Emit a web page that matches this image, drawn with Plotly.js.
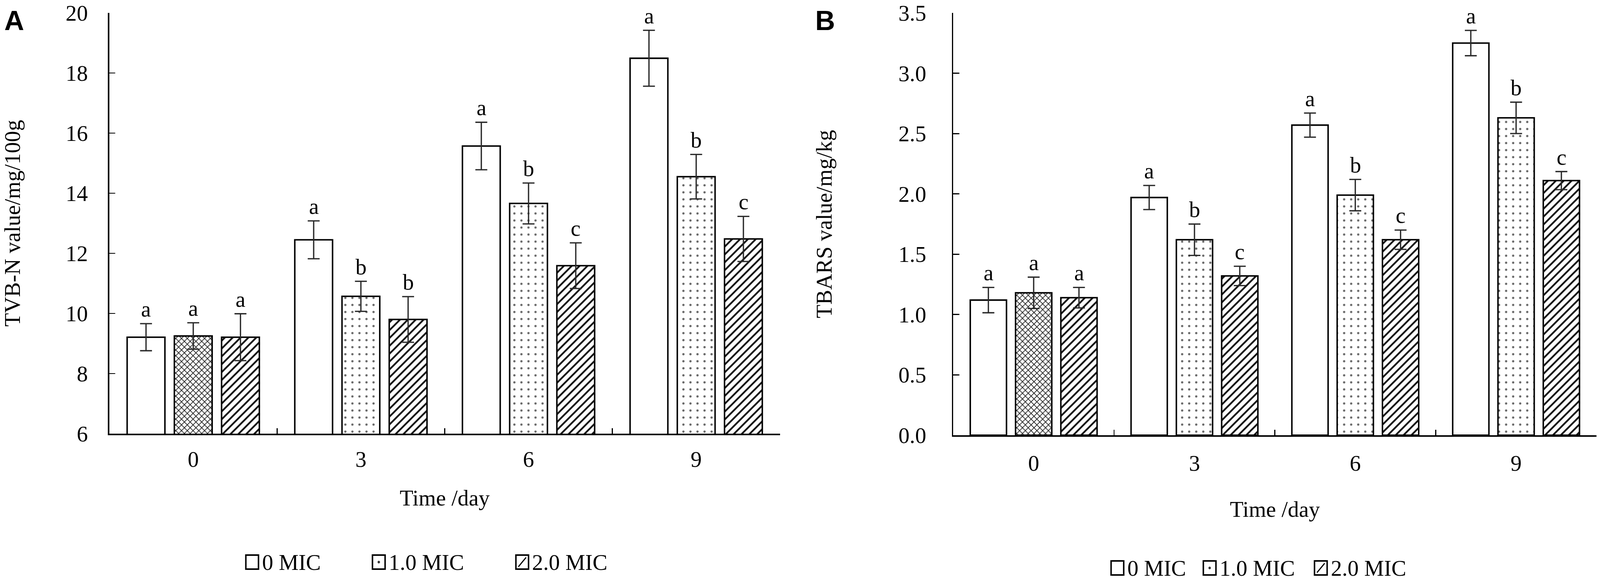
<!DOCTYPE html>
<html>
<head>
<meta charset="utf-8">
<script src="https://cdn.plot.ly/plotly-3.0.1.min.js"></script>
<style>
  html, body { margin: 0; padding: 0; background: #fff; overflow: hidden; }
</style>
</head>
<body>
<div id="plot"></div>
<script>
// categories
const days = ['0', '3', '6', '9']
const groups = ['0 MIC', '1.0 MIC', '2.0 MIC']

// A: TVB-N (mg/100g)
const tvbn0 = [9.21, 12.45, 15.57, 18.49]
const tvbn0Err = [0.45, 0.63, 0.79, 0.93]
const tvbn1 = [9.25, 10.57, 13.66, 14.55]
const tvbn1Err = [0.44, 0.50, 0.68, 0.74]
const tvbn2 = [9.21, 9.80, 11.59, 12.48]
const tvbn2Err = [0.78, 0.76, 0.76, 0.75]
const tvbnLetters = [['a', 'a', 'a', 'a'], ['a', 'b', 'b', 'b'], ['a', 'b', 'c', 'c']]

// B: TBARS (mg/kg)
const tbars0 = [1.12, 1.97, 2.57, 3.25]
const tbars0Err = [0.105, 0.10, 0.10, 0.105]
const tbars1 = [1.18, 1.62, 1.99, 2.63]
const tbars1Err = [0.13, 0.13, 0.13, 0.13]
const tbars2 = [1.14, 1.32, 1.62, 2.11]
const tbars2Err = [0.085, 0.08, 0.08, 0.075]
const tbarsLetters = [['a', 'a', 'a', 'a'], ['a', 'b', 'b', 'b'], ['a', 'c', 'c', 'c']]

// reference frame is 4562 x 1491; the real window can be narrower, so
// positions are kept as fractions of that frame and pixel sizes scaled
const RW = 4562, RH = 1491
const W = window.innerWidth || RW
const H = window.innerHeight || RH
const kx = W / RW
const k = Math.min(1, (kx + H / RH) / 2)
const px = v => v / RW
const py = v => 1 - v / RH
const ip = v => Math.round(v * k)
const SERIF = 'Liberation Serif, Times New Roman, serif'
const FS = 60 * k
const BARGAP = 0.155
const slot = (1 - BARGAP) / 3

function patternFor (s) {
  if (s === 0) return { shape: '' }
  if (s === 1) {
    return {
      shape: days.map(d => d === '0' ? 'x' : '.'),
      size: days.map(d => (d === '0' ? 11 : 19) * k),
      solidity: days.map(d => d === '0' ? 0.3 : 0.08),
      fgcolor: days.map(d => d === '0' ? '#1a1a1a' : '#666666'),
      bgcolor: '#ffffff',
      fillmode: 'replace'
    }
  }
  return { shape: '/', size: 15 * k, solidity: 0.32, fgcolor: '#111111', bgcolor: '#ffffff', fillmode: 'replace' }
}

function bars (series, errs, xa, ya) {
  return series.map((vals, s) => ({
    type: 'bar',
    name: groups[s],
    x: days,
    y: vals,
    xaxis: xa,
    yaxis: ya,
    showlegend: false,
    hoverinfo: 'skip',
    marker: {
      color: '#ffffff',
      line: { color: '#000000', width: 4 * k },
      pattern: patternFor(s)
    },
    error_y: {
      type: 'data',
      array: errs[s],
      visible: true,
      color: '#2a2a2a',
      thickness: 3.5 * k,
      width: 17 * kx
    }
  }))
}

const traces = [].concat(
  bars([tvbn0, tvbn1, tvbn2], [tvbn0Err, tvbn1Err, tvbn2Err], 'x', 'y'),
  bars([tbars0, tbars1, tbars2], [tbars0Err, tbars1Err, tbars2Err], 'x2', 'y2')
)

// significance letters above error bars
function letters (series, errs, marks, xr, yr) {
  const out = []
  series.forEach((vals, s) => {
    vals.forEach((v, d) => {
      out.push({
        x: d + (s - 1) * slot, xref: xr,
        y: v + errs[s][d], yref: yr,
        yanchor: 'bottom', yshift: 4,
        text: marks[s][d], showarrow: false,
        font: { family: SERIF, size: FS, color: '#000' }
      })
    })
  })
  return out
}

const tickFont = { family: SERIF, size: FS, color: '#000' }
const axisBase = {
  showline: true, linecolor: '#000', linewidth: 4 * k,
  ticks: 'inside', tickcolor: '#000', tickwidth: 3 * k,
  showgrid: false, zeroline: false,
  tickfont: tickFont, fixedrange: true,
  ticklabeloverflow: 'allow'
}

// custom legend (boxes drawn as shapes, labels as annotations)
function legend (xs, cy) {
  const shapes = [], anns = []
  const half = 18
  xs.forEach((x0, i) => {
    shapes.push({
      type: 'rect', xref: 'paper', yref: 'paper',
      x0: px(x0), x1: px(x0 + 36), y0: py(cy + half), y1: py(cy - half),
      line: { color: '#000', width: 4 * k }, fillcolor: '#fff'
    })
    if (i === 1) {
      shapes.push({
        type: 'circle', xref: 'paper', yref: 'paper',
        x0: px(x0 + 15), x1: px(x0 + 21), y0: py(cy + 3), y1: py(cy - 3),
        line: { color: '#333', width: 1 }, fillcolor: '#333'
      })
    }
    if (i === 2) {
      shapes.push({
        type: 'line', xref: 'paper', yref: 'paper',
        x0: px(x0 + 7), x1: px(x0 + 29), y0: py(cy + half - 6), y1: py(cy - half + 6),
        line: { color: '#000', width: 3 * k }
      })
    }
    anns.push({
      x: px(x0 + 44), xref: 'paper', xanchor: 'left',
      y: py(cy), yref: 'paper', yanchor: 'middle',
      text: groups[i], showarrow: false,
      font: { family: SERIF, size: FS, color: '#000' }
    })
  })
  return { shapes, anns }
}

const legA = legend([701, 1062, 1471], 1440)
const legB = legend([3168, 3431, 3748], 1455)

const layout = {
  width: W,
  height: H,
  margin: { l: 0, r: 0, t: 0, b: 0 },
  paper_bgcolor: '#fff',
  plot_bgcolor: '#fff',
  barmode: 'group',
  bargap: BARGAP,
  bargroupgap: 0.2,
  font: { family: SERIF, color: '#000' },
  xaxis: Object.assign({}, axisBase, {
    domain: [px(312), px(2224)], anchor: 'y',
    type: 'category', range: [-0.5, 3.5],
    tickson: 'boundaries', ticklen: 15 * k, ticklabelstandoff: ip(14),
    title: { text: 'Time /day', font: tickFont, standoff: 52 * k }
  }),
  yaxis: Object.assign({}, axisBase, {
    domain: [py(1111), py(33)], anchor: 'x',
    range: [6, 20], dtick: 2, ticklen: 16 * k, ticklabelstandoff: Math.round(44 * kx),
    title: { text: 'TVB-N value/mg/100g', font: tickFont, standoff: 112 * kx }
  }),
  xaxis2: Object.assign({}, axisBase, {
    domain: [px(2718), px(4552)], anchor: 'y2',
    type: 'category', range: [-0.5, 3.5],
    tickson: 'boundaries', ticklen: 15 * k, ticklabelstandoff: ip(20),
    title: { text: 'Time /day', font: tickFont, standoff: 72 * k }
  }),
  yaxis2: Object.assign({}, axisBase, {
    domain: [py(1115), py(33)], anchor: 'x2',
    range: [0, 3.5], dtick: 0.5, tickformat: '.1f', ticklen: 16 * k, ticklabelstandoff: Math.round(60 * kx),
    title: { text: 'TBARS value/mg/kg', font: tickFont, standoff: 170 * kx }
  }),
  shapes: legA.shapes.concat(legB.shapes),
  annotations: [].concat(
    letters([tvbn0, tvbn1, tvbn2], [tvbn0Err, tvbn1Err, tvbn2Err], tvbnLetters, 'x', 'y'),
    letters([tbars0, tbars1, tbars2], [tbars0Err, tbars1Err, tbars2Err], tbarsLetters, 'x2', 'y2'),
    legA.anns, legB.anns,
    [
      { x: px(10), xref: 'paper', xanchor: 'left', y: py(52), yref: 'paper', yanchor: 'middle',
        text: '<b>A</b>', showarrow: false, font: { family: 'Liberation Sans, Arial, sans-serif', size: 74 * k, color: '#000' } },
      { x: px(2322), xref: 'paper', xanchor: 'left', y: py(52), yref: 'paper', yanchor: 'middle',
        text: '<b>B</b>', showarrow: false, font: { family: 'Liberation Sans, Arial, sans-serif', size: 74 * k, color: '#000' } }
    ]
  )
}

Plotly.newPlot('plot', traces, layout, { displayModeBar: false, staticPlot: true })
</script>
</body>
</html>
